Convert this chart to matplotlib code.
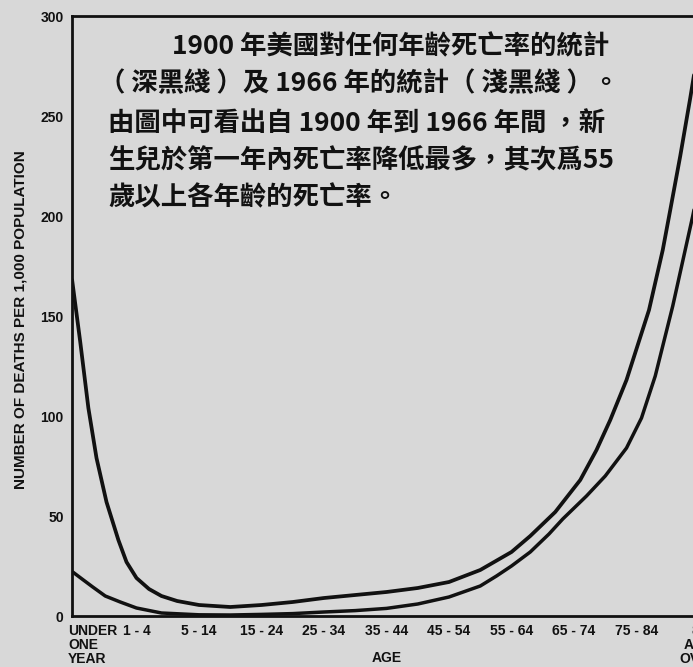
import matplotlib
matplotlib.use("Agg")
import matplotlib.pyplot as plt
from matplotlib.transforms import offset_copy

# ---- data ----
age_labels = ["UNDER\nONE\nYEAR", "1 - 4", "5 - 14", "15 - 24", "25 - 34", "35 - 44",
              "45 - 54", "55 - 64", "65 - 74", "75 - 84", "85\nAND\nOVER"]
y_ticks = [0, 50, 100, 150, 200, 250, 300]

# 1900 curve (dark line): position along the age axis (category units) and deaths per 1,000
pos_1900 = [-0.03, 0.10, 0.23, 0.36, 0.52, 0.71, 0.84, 1.0, 1.2, 1.4, 1.65, 2.0, 2.5, 3.0,
            3.5, 4.0, 4.5, 5.0, 5.5, 6.0, 6.5, 7.0, 7.3, 7.7, 8.1, 8.36, 8.58, 8.84, 9.2,
            9.42, 9.54, 9.7, 9.86, 10.1]
rate_1900 = [168, 137, 104, 79, 57, 38, 27, 19, 13.5, 10, 7.5, 5.5, 4.5, 5.5,
             7, 9, 10.5, 12, 14, 17, 23, 32, 40, 52, 68, 83, 98, 118, 153,
             183, 203, 230, 259, 305]

# 1966 curve (light line)
pos_1966 = [-0.02, 0.15, 0.30, 0.5, 0.74, 1.0, 1.4, 2.0, 2.5, 3.0, 3.5, 4.0, 4.5, 5.0,
            5.5, 6.0, 6.5, 6.76, 7.0, 7.3, 7.6, 7.82, 8.2, 8.5, 8.84, 9.08, 9.3, 9.58,
            9.9, 10.3]
rate_1966 = [22, 18, 14.5, 10, 7, 4, 1.5, 0.6, 0.5, 0.8, 1.2, 2, 2.7, 3.8,
             6, 9.5, 15, 20, 25, 32, 41, 48.5, 60, 70, 84, 99, 120, 155,
             200, 262]

note_lines = ["1900 年美國對任何年齡死亡率的統計",
              "（ 深黑綫 ）及 1966 年的統計（ 淺黑綫 ）。",
              "由圖中可看出自 1900 年到 1966 年間 ，新",
              "生兒於第一年內死亡率降低最多，其次爲55",
              "歲以上各年齡的死亡率。"]

W, H = 693, 667
bg = "#d8d8d8"
ink = "#111111"
fig = plt.figure(figsize=(W / 100, H / 100), dpi=100, facecolor=bg)
left, right, top, bottom = 72, 720, 16, 616
ax = fig.add_axes([left / W, (H - bottom) / H, (right - left) / W, (bottom - top) / H])
ax.set_facecolor("none")

ax.plot(pos_1900, rate_1900, color=ink, lw=2.7, solid_joinstyle="round", solid_capstyle="round")
ax.plot(pos_1966, rate_1966, color=ink, lw=2.5, solid_joinstyle="round", solid_capstyle="round")

ax.set_xlim((left - 74) / 62.5, (right - 74) / 62.5)
ax.set_ylim(0, 300)

for s in ["top", "left", "bottom"]:
    ax.spines[s].set_linewidth(2.0)
    ax.spines[s].set_color(ink)
ax.spines["right"].set_visible(False)

tick_font = dict(fontsize=10, fontweight="bold", family="Liberation Sans", color=ink)
ax.set_yticks(y_ticks)
ax.set_yticklabels([str(v) for v in y_ticks], **tick_font)
ax.set_xticks(range(len(age_labels)))
# first category label is drawn left-aligned at the axis corner below
ax.set_xticklabels([""] + age_labels[1:], linespacing=1.0, **tick_font)
ax.tick_params(length=0)
ax.tick_params(axis="y", pad=6)
ax.tick_params(axis="x", pad=6)
ax.text(0, 0, age_labels[0], ha="left", va="top", linespacing=1.0,
        transform=offset_copy(ax.get_xaxis_transform(), fig=fig, x=-6, y=-8, units="dots"),
        **tick_font)

ax.set_xlabel("AGE", **tick_font)
ax.xaxis.set_label_coords((387 - left) / (right - left), -(658 - bottom) / (bottom - top))
ax.xaxis.label.set_verticalalignment("center")
fig.text(21 / W, 1 - 320 / H, "NUMBER OF DEATHS PER 1,000 POPULATION", rotation=90,
         ha="center", va="center", fontsize=11, fontweight="bold",
         family=["Liberation Sans Narrow", "Liberation Sans"], color=ink)

line_y = [47, 84, 123, 161, 198]
line_x = [172, 99, 108, 108, 108]
for t, x, y in zip(note_lines, line_x, line_y):
    fig.text(x / W, 1 - y / H, t, ha="left", va="center", fontsize=19, fontweight="bold",
             family=["Noto Sans CJK TC", "DejaVu Sans"], color=ink)

fig.savefig("out.png", dpi=100, facecolor=bg)
